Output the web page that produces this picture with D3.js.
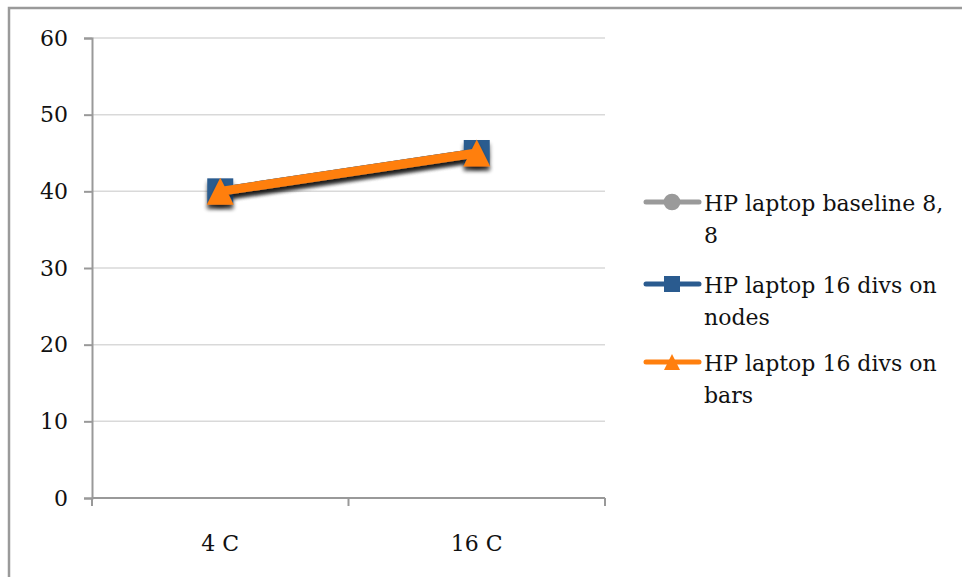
<!DOCTYPE html>
<html>
<head>
<meta charset="utf-8">
<script src="https://cdn.jsdelivr.net/npm/d3@7"></script>
<style>
  html, body { margin: 0; padding: 0; background: #fff; }
  svg text { font-family: "DejaVu Serif", "Liberation Serif", serif; fill: #111; }
</style>
</head>
<body>
<svg id="chart" width="962" height="577"></svg>
<script>
// Categories and series
const categories = ["4 C", "16 C"];
const seriesNames = [
  ["HP laptop baseline 8,", "8"],
  ["HP laptop 16 divs on", "nodes"],
  ["HP laptop 16 divs on", "bars"]
];
const baselineValues = [40, 45];
const nodesValues = [40, 45];
const barsValues = [40, 45];
const yTicks = [0, 10, 20, 30, 40, 50, 60];

const colors = ["#9a9a9a", "#2a5b8f", "#ff7f0e"];
const seriesValues = [baselineValues, nodesValues, barsValues];

// Triangle centred on its bounding box, `size` = side of that box squared
const boxTriangle = {
  draw(ctx, size) {
    const s = Math.sqrt(size) / 2;
    ctx.moveTo(0, -s);
    ctx.lineTo(s, s);
    ctx.lineTo(-s, s);
    ctx.closePath();
  }
};
const symbols = [d3.symbolCircle, d3.symbolSquare, boxTriangle];

const svg = d3.select("#chart");

// chart frame
svg.append("rect")
  .attr("x", 9).attr("y", 8).attr("width", 970).attr("height", 600)
  .attr("fill", "none").attr("stroke", "#9a9a9a").attr("stroke-width", 2.5);

const plot = { left: 92, right: 605, top: 38, bottom: 498 };

const x = d3.scaleBand().domain(categories).range([plot.left, plot.right]);
const y = d3.scaleLinear().domain([0, 60]).range([plot.bottom, plot.top]);

const defs = svg.append("defs");
const f = defs.append("filter").attr("id", "shadow")
  .attr("x", "-50%").attr("y", "-50%").attr("width", "200%").attr("height", "200%");
f.append("feGaussianBlur").attr("in", "SourceAlpha").attr("stdDeviation", 2.2).attr("result", "b");
f.append("feOffset").attr("in", "b").attr("dx", 0).attr("dy", 4).attr("result", "o");
f.append("feComponentTransfer").attr("in", "o").attr("result", "oc")
  .append("feFuncA").attr("type", "linear").attr("slope", 0.55);
const m = f.append("feMerge");
m.append("feMergeNode").attr("in", "oc");
m.append("feMergeNode").attr("in", "SourceGraphic");

// gridlines
svg.append("g").selectAll("line").data(yTicks.filter(d => d > 0)).join("line")
  .attr("x1", plot.left).attr("x2", plot.right)
  .attr("y1", d => y(d)).attr("y2", d => y(d))
  .attr("stroke", "#d9d9d9").attr("stroke-width", 1.5);

// y axis
const yAxis = svg.append("g").attr("transform", `translate(${plot.left},0)`)
  .call(d3.axisLeft(y).tickValues(yTicks).tickSize(8).tickPadding(16));
yAxis.attr("font-family", null);
yAxis.select(".domain").attr("stroke", "#999").attr("stroke-width", 2);
yAxis.selectAll(".tick line").attr("stroke", "#999").attr("stroke-width", 2);
yAxis.selectAll("text").style("font-size", "22px").attr("fill", "#111");

// x axis with boundary ticks
const xg = svg.append("g").attr("transform", `translate(0,${plot.bottom})`);
xg.append("line").attr("x1", plot.left).attr("x2", plot.right)
  .attr("stroke", "#999").attr("stroke-width", 2);
const bounds = [plot.left, ...categories.map(c => x(c) + x.bandwidth())];
xg.selectAll(".bt").data(bounds).join("line").attr("class", "bt")
  .attr("x1", d => d).attr("x2", d => d).attr("y1", 0).attr("y2", 8)
  .attr("stroke", "#999").attr("stroke-width", 2);
xg.selectAll("text").data(categories).join("text")
  .attr("x", d => x(d) + x.bandwidth() / 2).attr("y", 53)
  .attr("text-anchor", "middle").style("font-size", "22px").text(d => d);

// series
const line = d3.line().x((d, i) => x(categories[i]) + x.bandwidth() / 2).y(d => y(d));
const markerSize = [420, 676, 729];
seriesValues.forEach((vals, si) => {
  const g = svg.append("g").attr("filter", "url(#shadow)");
  g.append("path").datum(vals).attr("d", line)
    .attr("fill", "none").attr("stroke", colors[si]).attr("stroke-width", 9)
    .attr("stroke-linecap", "round");
  g.selectAll("path.mk").data(vals).join("path").attr("class", "mk")
    .attr("transform", (d, i) => `translate(${x(categories[i]) + x.bandwidth() / 2},${y(d)})`)
    .attr("d", d3.symbol().type(symbols[si]).size(markerSize[si]))
    .attr("fill", colors[si]);
});

// legend
const legendY = [202, 284, 362];
const legendMarker = [220, 256, 256];
seriesNames.forEach((lines, si) => {
  const g = svg.append("g").attr("transform", `translate(0,${legendY[si]})`);
  g.append("line").attr("x1", 646).attr("x2", 699).attr("y1", 0).attr("y2", 0)
    .attr("stroke", colors[si]).attr("stroke-width", 5).attr("stroke-linecap", "round");
  g.append("path").attr("transform", "translate(672,0)")
    .attr("d", d3.symbol().type(symbols[si]).size(legendMarker[si]))
    .attr("fill", colors[si]);
  lines.forEach((t, li) => {
    g.append("text").attr("x", 704).attr("y", 9 + li * 32)
      .style("font-size", "22px").text(t);
  });
});
</script>
</body>
</html>
